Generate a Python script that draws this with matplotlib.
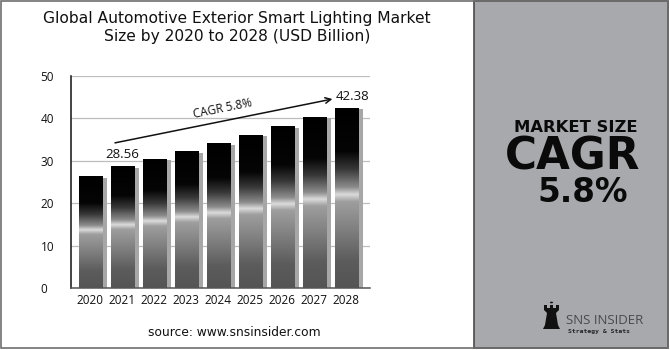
import numpy as np
import matplotlib
matplotlib.use('Agg')
import matplotlib.pyplot as plt
from matplotlib.colors import LinearSegmentedColormap
from matplotlib.patches import Rectangle, Polygon

plt.rcParams['font.family'] = ['Open Sans', 'DejaVu Sans']

years = ['2020', '2021', '2022', '2023', '2024', '2025', '2026', '2027', '2028']
market_size = [26.2, 28.56, 30.4, 32.1, 34.0, 36.0, 38.0, 40.2, 42.38]
labelled = {'2021': '28.56', '2028': '42.38'}
y_ticks = [0, 10, 20, 30, 40, 50]
cagr_text = 'CAGR 5.8%'

# chrome-like vertical gradient (0 = bottom, 1 = top)
chrome = LinearSegmentedColormap.from_list('chrome', [
    (0.00, (0.33, 0.33, 0.33)),
    (0.15, (0.36, 0.36, 0.36)),
    (0.35, (0.52, 0.52, 0.52)),
    (0.48, (0.62, 0.62, 0.62)),
    (0.52, (0.86, 0.86, 0.86)),
    (0.56, (0.55, 0.55, 0.55)),
    (0.66, (0.22, 0.22, 0.22)),
    (0.76, (0.02, 0.02, 0.02)),
    (1.00, (0.00, 0.00, 0.00)),
])

fig = plt.figure(figsize=(6.7, 3.5), dpi=100)
fig.patch.set_facecolor('white')

# right grey panel + outer frame
fig.add_artist(Rectangle((474 / 670, 2 / 350), 194 / 670, 347 / 350, transform=fig.transFigure,
                         facecolor='#a8a9ad', edgecolor='#4a4a4a', lw=1.2))
fig.add_artist(Rectangle((1 / 670, 2 / 350), 667 / 670, 347 / 350, transform=fig.transFigure,
                         facecolor='none', edgecolor='#6e6e6e', lw=1.2))

ax = fig.add_axes([71 / 670, 1 - 288 / 350, 299 / 670, 212 / 350])
x = np.arange(len(years))
w = 0.72

# side shadow
ax.bar(x + 0.16, np.array(market_size) - 0.2, width=w, color='#a7a7a7', zorder=2)
bars = ax.bar(x, market_size, width=w, color='none', zorder=3)

grad = np.linspace(0, 1, 256).reshape(-1, 1)
for b in bars:
    x0, y0 = b.get_x(), b.get_y()
    ax.imshow(grad, extent=[x0, x0 + b.get_width(), y0, y0 + b.get_height()],
              cmap=chrome, origin='lower', aspect='auto', zorder=3)

for i, (yr, v) in enumerate(zip(years, market_size)):
    if yr in labelled:
        dx = 0.2 if yr == '2028' else 0.0
        ax.text(i + dx, v + 1.3, labelled[yr], ha='center', va='bottom', fontsize=9.5, color='#111111')

# CAGR arrow
ax.annotate('', xy=(7.66, 44.7), xytext=(0.69, 34.1),
            arrowprops=dict(arrowstyle='->', color='#111111', lw=1.1))
ax.text(4.15, 42.4, cagr_text, rotation=11.5, ha='center', va='center', fontsize=8.5, color='#111111')

ax.set_xlim(-0.6, 8.75)
ax.set_ylim(0, 50)
ax.set_yticks(y_ticks)
ax.set_xticks(x)
ax.set_xticklabels(years)
ax.yaxis.grid(True, color='#bdbdbd', lw=0.9)
ax.set_axisbelow(True)
for s in ['top', 'right']:
    ax.spines[s].set_visible(False)
ax.spines['left'].set_color('#111111')
ax.spines['bottom'].set_color('#555555')
ax.spines['left'].set_linewidth(1.1)
ax.spines['bottom'].set_linewidth(1.1)
ax.tick_params(length=0, labelsize=8.5, colors='#111111')
ax.tick_params(axis='y', pad=22)
ax.tick_params(axis='x', pad=4)
for t in ax.get_yticklabels():
    t.set_ha('left')

fig.text(237 / 670, 1 - 19 / 350, 'Global Automotive Exterior Smart Lighting Market',
         ha='center', va='center', fontsize=11.2, color='#111111', family='DejaVu Sans')
fig.text(237 / 670, 1 - 36 / 350, 'Size by 2020 to 2028 (USD Billion)',
         ha='center', va='center', fontsize=11.2, color='#111111', family='DejaVu Sans')
fig.text(234 / 670, 1 - 333 / 350, 'source: www.snsinsider.com',
         ha='center', va='center', fontsize=8.8, color='#111111', family='DejaVu Sans')

# right panel text
fig.text(576 / 670, 1 - 128 / 350, 'MARKET SIZE', ha='center', va='center',
         fontsize=11.8, fontweight='bold', color='#0a0a0a', family='DejaVu Sans')
fig.text(573 / 670, 1 - 157 / 350, 'CAGR', ha='center', va='center',
         fontsize=31.5, fontweight='bold', color='#0a0a0a', family='DejaVu Sans')
fig.text(583 / 670, 1 - 193 / 350, '5.8%', ha='center', va='center',
         fontsize=23.5, fontweight='bold', color='#0a0a0a', family='DejaVu Sans')

# logo: small rook + name
lx, ly = 543, 329
rook = [(lx, ly), (lx + 17, ly), (lx + 15, ly - 4), (lx + 13, ly - 16), (lx + 16, ly - 19),
        (lx + 16, ly - 24), (lx + 13, ly - 24), (lx + 13, ly - 21), (lx + 10, ly - 21),
        (lx + 10, ly - 24), (lx + 7, ly - 24), (lx + 7, ly - 21), (lx + 4, ly - 21),
        (lx + 4, ly - 24), (lx + 1, ly - 24), (lx + 1, ly - 19), (lx + 4, ly - 16), (lx + 2, ly - 4)]
fig.add_artist(Polygon([(px / 670, 1 - py / 350) for px, py in rook], closed=True,
                       transform=fig.transFigure, facecolor='#111111', edgecolor='none'))
fig.add_artist(plt.Circle((551.5 / 670, 1 - 302.5 / 350), 1.6 / 670, transform=fig.transFigure,
                          facecolor='#111111'))
fig.text(566 / 670, 1 - 321 / 350, 'SNS INSIDER', ha='left', va='center',
         fontsize=9.5, color='#4a4a4a')
fig.text(568 / 670, 1 - 331 / 350, 'Strategy & Stats', ha='left', va='center',
         fontsize=4.6, fontweight='bold', color='#222222', family='DejaVu Sans Mono')

fig.savefig('out.png', dpi=100)
